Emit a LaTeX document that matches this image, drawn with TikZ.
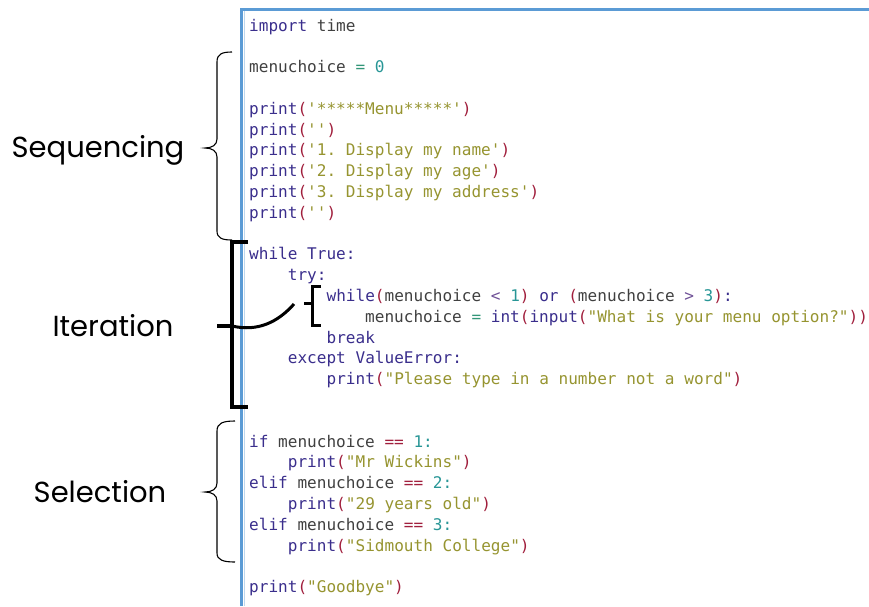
\documentclass[tikz,border=0pt]{standalone}
\usepackage{fontspec}
\setmonofont{DejaVu Sans Mono}
\newfontfamily\labelfont{Poppins}
\definecolor{kwcol}{RGB}{58,46,140}
\definecolor{idcol}{RGB}{64,64,64}
\definecolor{strcol}{RGB}{150,148,48}
\definecolor{numcol}{RGB}{40,150,150}
\definecolor{parcol}{RGB}{160,30,60}
\definecolor{opcol}{RGB}{50,150,120}
\definecolor{cmpcol}{RGB}{110,80,150}
\definecolor{framecol}{RGB}{91,155,213}
\newcommand\kw[1]{\textcolor{kwcol}{#1}}
\newcommand\cid[1]{\textcolor{idcol}{#1}}
\newcommand\cstr[1]{\textcolor{strcol}{#1}}
\newcommand\cnum[1]{\textcolor{numcol}{#1}}
\newcommand\cpar[1]{\textcolor{parcol}{#1}}
\newcommand\cop[1]{\textcolor{opcol}{#1}}
\newcommand\ccmp[1]{\textcolor{cmpcol}{#1}}
\tikzset{
  code/.style={anchor=base west, inner sep=0pt, font=\ttfamily\fontsize{16.06}{19}\selectfont},
  lbl/.style={font=\labelfont\fontsize{29}{34}\selectfont},
  thinbrace/.style={draw=black, line width=1.1pt},
  thickbrace/.style={draw=black, line width=3.4pt}
}
\begin{document}
\begin{tikzpicture}[x=1pt,y=-1pt]
\useasboundingbox (0,0) rectangle (869,606);

% Editor frame
\draw[framecol, line width=2.2pt] (240,9.5) -- (869,9.5);
\draw[framecol, line width=2.2pt] (241.5,9.5) -- (241.5,606);
\draw[framecol!40, line width=1pt] (244,11) -- (244,606);

% Code lines
\node[code] (l0)  at (249, 31.0) {\kw{import} \cid{time}};
\node[code] (l2)  at (249, 72.6) {\cid{menuchoice} \cop{=} \cnum{0}};
\node[code] (l4)  at (249,114.2) {\kw{print}\cpar{(}\cstr{'*****Menu*****'}\cpar{)}};
\node[code] (l5)  at (249,135.0) {\kw{print}\cpar{(}\cstr{''}\cpar{)}};
\node[code] (l6)  at (249,155.8) {\kw{print}\cpar{(}\cstr{'1. Display my name'}\cpar{)}};
\node[code] (l7)  at (249,176.6) {\kw{print}\cpar{(}\cstr{'2. Display my age'}\cpar{)}};
\node[code] (l8)  at (249,197.4) {\kw{print}\cpar{(}\cstr{'3. Display my address'}\cpar{)}};
\node[code] (l9)  at (249,218.2) {\kw{print}\cpar{(}\cstr{''}\cpar{)}};

\node[code] (l11) at (249,259.8) {\kw{while} \kw{True:}};
\node[code] (l12) at (287.7,280.6) {\kw{try:}};
\node[code] (l13) at (326.4,301.4) {\kw{while}\cpar{(}\cid{menuchoice} \ccmp{<} \cnum{1}\cpar{)} \kw{or} \cpar{(}\cid{menuchoice} \ccmp{>} \cnum{3}\cpar{)}\kw{:}};
\node[code] (l14) at (365.0,322.2) {\cid{menuchoice} \cop{=} \kw{int}\cpar{(}\kw{input}\cpar{(}\cstr{"What is your menu option?"}\cpar{))}};
\node[code] (l15) at (326.4,343.0) {\kw{break}};
\node[code] (l16) at (287.7,363.8) {\kw{except} \kw{ValueError:}};
\node[code] (l17) at (326.4,384.6) {\kw{print}\cpar{(}\cstr{"Please type in a number not a word"}\cpar{)}};

\node[code] (l20) at (249,447.0) {\kw{if} \cid{menuchoice} \cpar{==} \cnum{1:}};
\node[code] (l21) at (287.7,467.8) {\kw{print}\cpar{(}\cstr{"Mr Wickins"}\cpar{)}};
\node[code] (l22) at (249,488.6) {\kw{elif} \cid{menuchoice} \cpar{==} \cnum{2:}};
\node[code] (l23) at (287.7,509.4) {\kw{print}\cpar{(}\cstr{"29 years old"}\cpar{)}};
\node[code] (l24) at (249,530.2) {\kw{elif} \cid{menuchoice} \cpar{==} \cnum{3:}};
\node[code] (l25) at (287.7,551.0) {\kw{print}\cpar{(}\cstr{"Sidmouth College"}\cpar{)}};

\node[code] (l27) at (249,592.6) {\kw{print}\cpar{(}\cstr{"Goodbye"}\cpar{)}};

% Labels
\node[lbl] (seq) at (98,150) {Sequencing};
\node[lbl] (iter) at (113,326) {Iteration};
\node[lbl] (sel) at (100,492) {Selection};

% Sequencing brace
\draw[thinbrace] (232,52) .. controls (222,52) and (217,54) .. (217,62) -- (217,139)
  .. controls (217,145) and (212,148) .. (205,148)
  .. controls (212,148) and (217,151) .. (217,157) -- (217,231)
  .. controls (217,238) and (222,240) .. (232,240);

% Selection brace
\draw[thinbrace] (235,421) .. controls (223,421) and (217,423) .. (217,431) -- (217,483)
  .. controls (217,489) and (212,492) .. (205,492)
  .. controls (212,492) and (217,495) .. (217,501) -- (217,553)
  .. controls (217,560) and (223,562) .. (235,562);

% Iteration bracket
\coordinate (itertip) at (232,326);
\coordinate (innertip) at (304,303);
\draw[thickbrace] (248,242) -- (232,242) -- (232,407) -- (248,407);
\draw[thickbrace] (itertip) -- (217,326);

% Inner loop bracket
\draw[thickbrace, line width=3pt] (321,286) -- (312,286) -- (312,325) -- (321,325);
\draw[thickbrace, line width=3pt] (312,303) -- (innertip);

% Link between the brackets
\draw[thickbrace, line width=3pt] (itertip) .. controls (258,332) and (278,322) .. (294,304);

\end{tikzpicture}
\end{document}
